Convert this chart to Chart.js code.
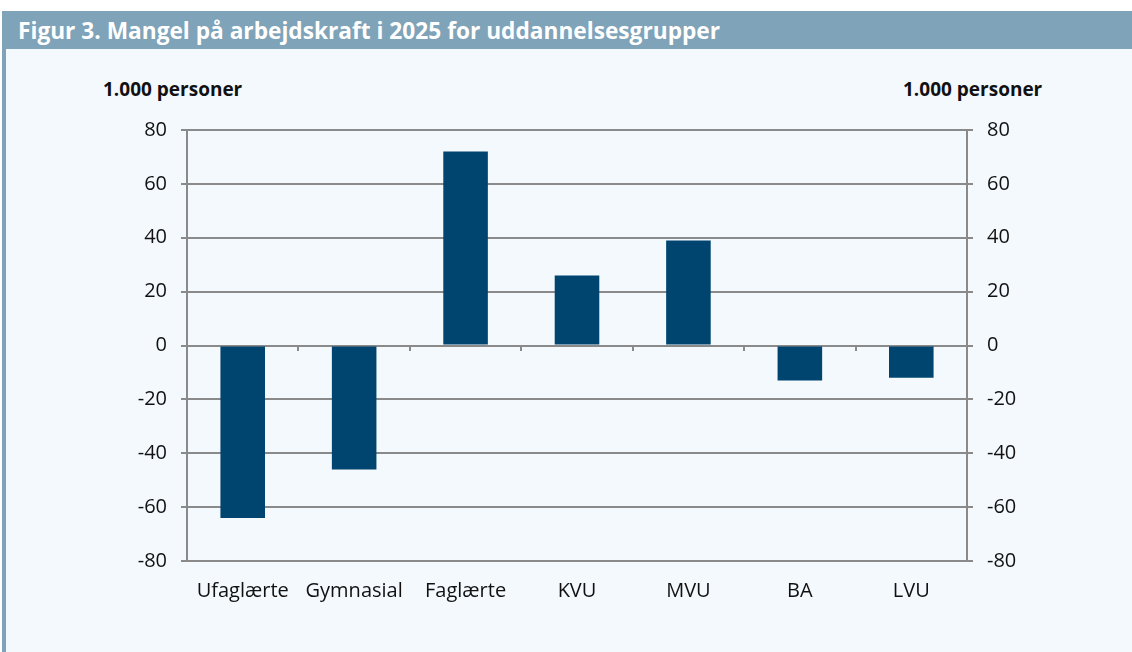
<!DOCTYPE html>
<html>
<head>
<meta charset="utf-8">
<script src="https://cdn.jsdelivr.net/npm/chart.js@4"></script>
<style>
    html, body {
        margin: 0;
        padding: 0;
        width: 1132px;
        height: 652px;
        background: #ffffff;
        overflow: hidden;
        font-family: 'Open Sans', 'Noto Sans', sans-serif;
    }
    .panel {
        position: absolute;
        left: 2px;
        top: 11px;
        width: 1130px;
        height: 641px;
        background: #f4f9fd;
        border-left: 4px solid #7fa3b8;
        box-sizing: border-box;
    }
    header {
        position: absolute;
        left: 2px;
        top: 11px;
        width: 1130px;
        height: 38px;
        background: #7fa3b8;
        color: #ffffff;
        font-weight: 700;
        font-size: 22.7px;
        line-height: 40px;
        padding-left: 16px;
        box-sizing: border-box;
        white-space: nowrap;
    }
    .unit {
        position: absolute;
        top: 76px;
        font-size: 19px;
        line-height: 26px;
        font-weight: 700;
        color: #111111;
        white-space: nowrap;
    }
    #chart-wrap {
        position: absolute;
        left: 0;
        top: 49px;
        width: 1132px;
        height: 603px;
    }
</style>
</head>
<body>
<div class="panel"></div>
<header>Figur 3. Mangel på arbejdskraft i 2025 for uddannelsesgrupper</header>
<div class="unit" style="left:103px">1.000 personer</div>
<div class="unit" style="left:903px">1.000 personer</div>
<div id="chart-wrap"><canvas id="chart"></canvas></div>
<script>
const categories = ['Ufaglærte', 'Gymnasial', 'Faglærte', 'KVU', 'MVU', 'BA', 'LVU']
const shortage = [-64, -46, 72, 26, 39, -13, -12]
const yMin = -80
const yMax = 80
const yStep = 20

const lineColor = '#8a8a8a'
const barColor = '#004570'
const tickFont = { family: "'Open Sans', 'Noto Sans', sans-serif", size: 20 }

const valueAxis = (position, onChart) => ({
    type: 'linear',
    position,
    min: yMin,
    max: yMax,
    ticks: { stepSize: yStep, color: '#111111', font: tickFont, padding: 14 },
    grid: { color: lineColor, lineWidth: 2, tickLength: 6, drawOnChartArea: onChart },
    border: { display: true, color: lineColor, width: 2 },
    afterFit: scale => { scale.width = position === 'left' ? 187 : 165 }
})

new Chart(document.getElementById('chart'), {
    type: 'bar',
    data: {
        labels: categories,
        datasets: [{
            data: shortage,
            backgroundColor: barColor,
            borderWidth: 0,
            categoryPercentage: 0.8,
            barPercentage: 0.5,
            yAxisID: 'y',
            xAxisID: 'x'
        }]
    },
    options: {
        responsive: true,
        maintainAspectRatio: false,
        animation: false,
        layout: { padding: { top: 81, left: 0, right: 0, bottom: 0 } },
        plugins: {
            legend: { display: false },
            tooltip: { enabled: false }
        },
        scales: {
            x: {
                type: 'category',
                position: 'bottom',
                grid: { display: false },
                border: { display: false },
                ticks: { color: '#111111', font: tickFont, padding: 10, maxRotation: 0, autoSkip: false },
                afterFit: scale => { scale.height = 91 }
            },
            // zero line ticks between the groups
            xZero: {
                type: 'category',
                labels: categories,
                position: { y: 0 },
                offset: true,
                grid: { offset: true, drawOnChartArea: false, color: lineColor, lineWidth: 2, tickLength: 5 },
                border: { display: false },
                ticks: { display: false }
            },
            y: valueAxis('left', true),
            y2: valueAxis('right', false)
        }
    }
})
</script>
</body>
</html>
